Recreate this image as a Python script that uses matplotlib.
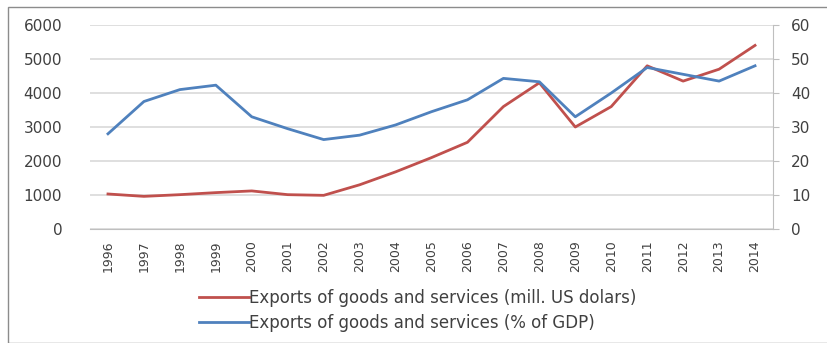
import matplotlib.pyplot as plt
from matplotlib.patches import Rectangle

years = [str(y) for y in range(1996, 2015)]
exports_usd = [1030, 960, 1010, 1070, 1120, 1010, 990, 1300, 1680, 2100,
               2550, 3600, 4300, 3000, 3600, 4800, 4350, 4700, 5400]
exports_gdp = [28, 37.5, 41, 42.3, 33, 29.5, 26.3, 27.6, 30.6, 34.5,
               38, 44.3, 43.3, 33, 40, 47.5, 45.5, 43.5, 48]

RED = "#c0504d"
BLUE = "#4f81bd"
GRID = "#d9d9d9"
TXT = "#404040"

plt.rcParams["font.family"] = ["DejaVu Sans"]

fig = plt.figure(figsize=(8.27, 3.43), dpi=100)
fig.patches.append(Rectangle((8 / 827, 0), 1.0, 1 - 7 / 343, transform=fig.transFigure,
                             fill=False, edgecolor="#8c8c8c", linewidth=1.0))

ax = fig.add_axes([90 / 827, 1 - 229 / 343, (773 - 90) / 827, (229 - 25) / 343])
ax2 = ax.twinx()

x = list(range(len(years)))
l1, = ax.plot(x, exports_usd, color=RED, lw=2.0, label="Exports of goods and services (mill. US dolars)")
l2, = ax2.plot(x, exports_gdp, color=BLUE, lw=2.0, label="Exports of goods and services (% of GDP)")

ax.set_xlim(-0.5, len(years) - 0.5)
ax.set_ylim(0, 6000)
ax2.set_ylim(0, 60)
ax.set_yticks(range(0, 6001, 1000))
ax2.set_yticks(range(0, 61, 10))
ax.set_xticks(x)
ax.set_xticklabels(years, rotation=90, fontsize=9, color=TXT,
                   family=["Liberation Sans Narrow", "DejaVu Sans"])

ax.yaxis.grid(True, color=GRID, lw=1.2)
ax.set_axisbelow(True)
for a in (ax, ax2):
    for s in ("top", "left", "right"):
        a.spines[s].set_visible(False)
    a.spines["bottom"].set_color("#bfbfbf")
ax2.spines["right"].set_visible(True)
ax2.spines["right"].set_color("#bfbfbf")
ax2.spines["bottom"].set_visible(False)

ax.tick_params(axis="y", length=0, pad=20, labelsize=11, labelcolor=TXT)
ax.tick_params(axis="x", length=0, pad=8)
ax2.tick_params(axis="y", length=4, color="#bfbfbf", pad=9, labelsize=11, labelcolor=TXT)

fig.legend(handles=[l1, l2], loc="center", bbox_to_anchor=(0.505, 0.095), ncol=1,
           frameon=False, fontsize=12, handlelength=3.0, handletextpad=0.05,
           labelspacing=0.45, labelcolor=TXT)

fig.savefig("out.png", dpi=100)
